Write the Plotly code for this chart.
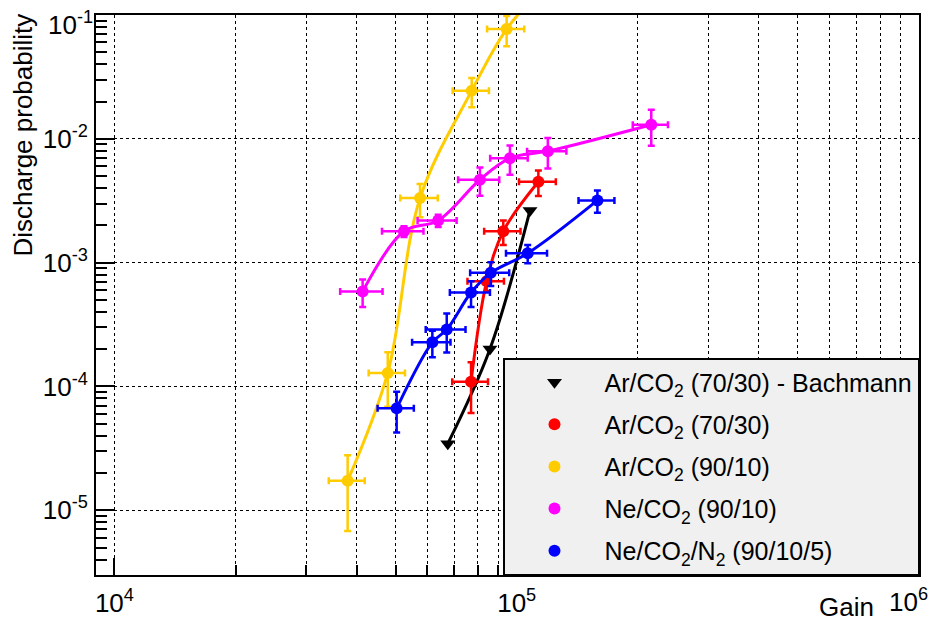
import plotly.graph_objects as go

# ---------------- data ----------------
bach_gain = [6.74e4, 8.58e4, 1.079e5]
bach_prob = [3.45e-5, 2.01e-4, 2.64e-3]

ar7030_gain = [7.70e4, 8.42e4, 9.26e4, 1.132e5]
ar7030_gain_err = [7850, 8760, 9600, 11900]
ar7030_prob = [1.09e-4, 7.07e-4, 1.79e-3, 4.50e-3]
ar7030_prob_err = [4.8e-5, 1.2e-4, 4.0e-4, 1.05e-3]

ar9010_gain = [3.80e4, 4.78e4, 5.75e4, 7.73e4, 9.44e4, 1.15e5]
ar9010_gain_err = [3900, 4950, 6140, 8000, 10000, 0]
ar9010_prob = [1.73e-5, 1.285e-4, 3.32e-3, 2.45e-2, 7.70e-2, 0.16]
ar9010_prob_err = [1.05e-5, 6.0e-5, 1.0e-3, 6.5e-3, 2.1e-2, 0]

neco2_gain = [4.14e4, 5.245e4, 6.38e4, 8.10e4, 9.62e4, 1.195e5, 2.16e5]
neco2_gain_err = [5000, 6200, 7100, 9500, 10300, 13400, 21700]
neco2_prob = [5.84e-4, 1.79e-3, 2.19e-3, 4.67e-3, 6.98e-3, 7.95e-3, 1.30e-2]
neco2_prob_err = [1.46e-4, 1.8e-4, 2.5e-4, 1.2e-3, 1.86e-3, 2.2e-3, 4.2e-3]

neco2n2_gain = [5.03e4, 6.17e4, 6.70e4, 7.70e4, 8.62e4, 1.065e5, 1.587e5]
neco2n2_gain_err = [5200, 6750, 7600, 8800, 9600, 12450, 16250]
neco2n2_prob = [6.65e-5, 2.27e-4, 2.88e-4, 5.73e-4, 8.27e-4, 1.19e-3, 3.18e-3]
neco2n2_prob_err = [2.4e-5, 5.5e-5, 1.0e-4, 1.34e-4, 1.8e-4, 2.0e-4, 6.5e-4]

x_major = [1e4, 1e5, 1e6]
# the last x label (10^6) and top y label (10^-1) are drawn as annotations, kept inside the page
x_major_text = ["10<sup>4</sup>", "10<sup>5</sup>", ""]
x_right_label = "10<sup>6</sup>"
y_major = [1e-5, 1e-4, 1e-3, 1e-2, 1e-1]
y_major_text = ["10<sup>-5</sup>", "10<sup>-4</sup>", "10<sup>-3</sup>", "10<sup>-2</sup>", ""]
y_top_label = "10<sup>-1</sup>"

FONT = "Liberation Sans, Arial, Helvetica, sans-serif"

x_minor = [m * d for d in (1e4, 1e5) for m in range(2, 10)]
y_minor = [m * d for d in (1e-6, 1e-5, 1e-4, 1e-3, 1e-2) for m in range(2, 10) if m * d > 2.9e-6]

fig = go.Figure()

series = [
    ("Ar/CO<sub>2</sub> (70/30) - Bachmann", "black", "triangle-down",
     bach_gain, None, bach_prob, None, len(bach_gain)),
    ("Ar/CO<sub>2</sub> (70/30)", "#ff0000", "circle",
     ar7030_gain, ar7030_gain_err, ar7030_prob, ar7030_prob_err, len(ar7030_gain)),
    ("Ar/CO<sub>2</sub> (90/10)", "#ffcc00", "circle",
     ar9010_gain, ar9010_gain_err, ar9010_prob, ar9010_prob_err, 5),
    ("Ne/CO<sub>2</sub> (90/10)", "#ff00ff", "circle",
     neco2_gain, neco2_gain_err, neco2_prob, neco2_prob_err, len(neco2_gain)),
    ("Ne/CO<sub>2</sub>/N<sub>2</sub> (90/10/5)", "#0000ff", "circle",
     neco2n2_gain, neco2n2_gain_err, neco2n2_prob, neco2n2_prob_err, len(neco2n2_gain)),
]

for i, (name, col, sym, gx, gxe, py, pye, nmark) in enumerate(series):
    grp = f"g{i}"
    fig.add_trace(go.Scatter(
        x=gx, y=py, mode="lines", line=dict(color=col, width=3, shape="spline"),
        showlegend=False, legendgroup=grp, hoverinfo="skip"))
    kw = {}
    if gxe is not None:
        kw["error_x"] = dict(type="data", array=gxe[:nmark], color=col, thickness=2.5, width=3.5)
        kw["error_y"] = dict(type="data", array=pye[:nmark], color=col, thickness=2.5, width=3.5)
    fig.add_trace(go.Scatter(
        x=gx[:nmark], y=py[:nmark], mode="markers", name=name, legendgroup=grp,
        marker=dict(color=col, symbol=sym, size=12 if sym == "circle" else 13,
                    line=dict(width=0)),
        **kw))

axis_common = dict(
    showline=True, linecolor="black", linewidth=2, mirror=True,
    ticks="inside", tickcolor="black", tickwidth=1.5,
    showgrid=True, gridcolor="black", gridwidth=1, griddash="dot",
    zeroline=False, automargin=False,
    tickfont=dict(family=FONT, size=26, color="black"),
)

fig.update_xaxes(
    type="log", range=[3.9542, 6.0], tickmode="array", tickvals=x_major, ticktext=x_major_text,
    ticklen=17, ticklabelstandoff=4,
    minor=dict(tickmode="array", tickvals=x_minor, ticks="inside", ticklen=10, tickcolor="black",
               tickwidth=1.5, showgrid=True, gridcolor="black", gridwidth=1, griddash="dot"),
    **axis_common)
fig.update_yaxes(
    type="log", range=[-5.523, -1.0], tickmode="array", tickvals=y_major, ticktext=y_major_text,
    ticklen=19, ticklabelstandoff=1,
    minor=dict(tickmode="array", tickvals=y_minor, ticks="inside", ticklen=11, tickcolor="black",
               tickwidth=1.5, showgrid=False),
    **axis_common)

# page body has an 8px margin: size/margins compensate so the plot area lands at 96..919 x 15..575
fig.update_layout(
    width=932, height=620,
    margin=dict(l=88, r=21, t=7, b=53, autoexpand=False),
    paper_bgcolor="white", plot_bgcolor="white",
    font=dict(family=FONT, color="black"),
    showlegend=True,
    legend=dict(x=1, xanchor="right", y=0, yanchor="bottom",
                bgcolor="#f0f0f0", bordercolor="black", borderwidth=1.5,
                font=dict(family=FONT, size=25, color="black"),
                itemwidth=90, traceorder="grouped", tracegroupgap=6.6,
                itemsizing="trace"),
    annotations=[
        dict(text="Discharge probability", xref="paper", yref="paper",
             x=(22 - 96) / 823, y=1.0, xanchor="center", yanchor="top", yshift=3,
             textangle=-90, showarrow=False, font=dict(family=FONT, size=26, color="black")),
        dict(text="Gain", xref="paper", yref="paper",
             x=(876 - 96) / 823, y=(575 - 607) / 560, xanchor="right", yanchor="middle",
             showarrow=False, font=dict(family=FONT, size=26, color="black")),
        dict(text=y_top_label, xref="paper", yref="paper",
             x=(95 - 96) / 823, y=1 - (24 - 15) / 560, xanchor="right", yanchor="middle",
             showarrow=False, font=dict(family=FONT, size=26, color="black")),
        dict(text=x_right_label, xref="paper", yref="paper",
             x=(930 - 96) / 823, y=(575 - 600) / 560, xanchor="right", yanchor="middle",
             showarrow=False, font=dict(family=FONT, size=26, color="black")),
    ],
)

fig.write_html("out.html")
